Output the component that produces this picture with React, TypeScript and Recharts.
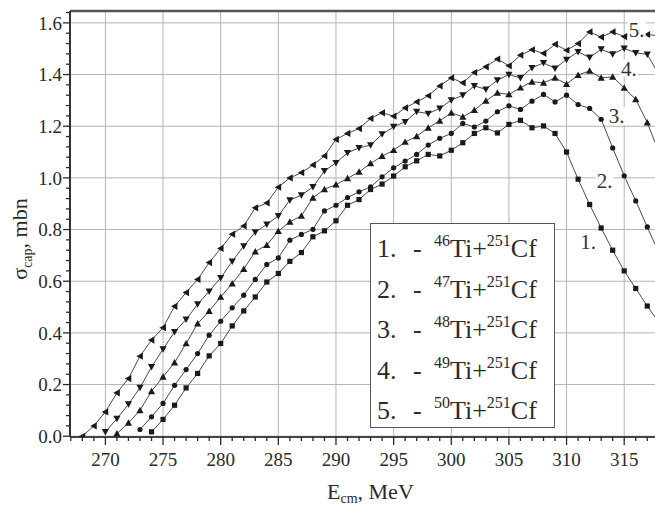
import React from 'react';
import { LineChart, Line, XAxis, YAxis, CartesianGrid, ReferenceLine, ReferenceDot } from 'recharts';

const ENERGY = [
  268, 269, 270, 271, 272, 273, 274, 275, 276, 277, 278, 279, 280, 281, 282, 283, 284,
  285, 286, 287, 288, 289, 290, 291, 292, 293, 294, 295, 296, 297, 298, 299, 300, 301,
  302, 303, 304, 305, 306, 307, 308, 309, 310, 311, 312, 313, 314, 315, 316, 317, 318,
];

// 46Ti + 251Cf
const SIGMA_1 = [
  null, null, null, null, null, null,
  0.017, 0.065, 0.12, 0.187, 0.243, 0.311, 0.359, 0.427, 0.485, 0.539,
  0.597, 0.63, 0.677, 0.711, 0.772, 0.795, 0.834, 0.894, 0.916, 0.955,
  0.976, 1.007, 1.043, 1.066, 1.091, 1.085, 1.107, 1.136, 1.172, 1.194,
  1.174, 1.207, 1.223, 1.194, 1.201, 1.172, 1.1, 0.995, 0.897, 0.806,
  0.72, 0.64, 0.572, 0.504, 0.44,
];
// 47Ti + 251Cf
const SIGMA_2 = [
  null, null, null, null, null,
  0.026, 0.075, 0.127, 0.197, 0.258, 0.32, 0.391, 0.445, 0.497, 0.546,
  0.607, 0.665, 0.69, 0.759, 0.781, 0.801, 0.872, 0.894, 0.924, 0.946,
  0.965, 1.004, 1.039, 1.065, 1.091, 1.127, 1.153, 1.172, 1.211, 1.197,
  1.22, 1.256, 1.279, 1.265, 1.297, 1.323, 1.294, 1.32, 1.284, 1.269,
  1.227, 1.116, 1.008, 0.911, 0.81, 0.71,
];
// 48Ti + 251Cf
const SIGMA_3 = [
  null, null, null,
  0.01, 0.052, 0.1, 0.174, 0.23, 0.285, 0.359, 0.436, 0.484, 0.539,
  0.591, 0.647, 0.715, 0.74, 0.794, 0.83, 0.853, 0.923, 0.956, 0.974,
  0.998, 1.023, 1.056, 1.084, 1.107, 1.139, 1.161, 1.194, 1.221, 1.252,
  1.236, 1.262, 1.298, 1.329, 1.323, 1.349, 1.372, 1.368, 1.387, 1.363,
  1.398, 1.414, 1.387, 1.391, 1.348, 1.304, 1.214, 1.1,
];
// 49Ti + 251Cf
const SIGMA_4 = [
  null, null,
  0.017, 0.068, 0.124, 0.188, 0.268, 0.337, 0.404, 0.452, 0.511, 0.561,
  0.613, 0.677, 0.736, 0.79, 0.82, 0.853, 0.914, 0.933, 0.965, 1.027,
  1.058, 1.097, 1.116, 1.127, 1.169, 1.198, 1.217, 1.256, 1.249, 1.269,
  1.301, 1.32, 1.356, 1.343, 1.378, 1.4, 1.387, 1.426, 1.445, 1.424,
  1.458, 1.488, 1.466, 1.498, 1.479, 1.501, 1.484, 1.478, 1.4,
];
// 50Ti + 251Cf
const SIGMA_5 = [
  0.0, 0.04, 0.094, 0.168, 0.223, 0.31, 0.372, 0.42, 0.503, 0.556,
  0.607, 0.672, 0.727, 0.782, 0.814, 0.884, 0.903, 0.964, 1.0, 1.02,
  1.05, 1.085, 1.149, 1.172, 1.191, 1.23, 1.252, 1.239, 1.271, 1.294,
  1.318, 1.356, 1.387, 1.368, 1.408, 1.43, 1.46, 1.434, 1.475, 1.496,
  1.482, 1.517, 1.494, 1.52, 1.565, 1.545, 1.565, 1.547, 1.57, 1.555,
  1.55,
];

const TI_MASS = ['46', '47', '48', '49', '50'];
const CF_MASS = '251';
const MARKERS = ['square', 'circle', 'triUp', 'triDown', 'triLeft'];

// curve number labels, placed in data units
const CURVE_LABEL_E = [311.86, 313.3, 314.35, 315.41, 316.08];
const CURVE_LABEL_S = [0.752, 0.991, 1.239, 1.424, 1.572];

const X_MAJOR = [270, 275, 280, 285, 290, 295, 300, 305, 310, 315];
const Y_MAJOR = [0, 0.2, 0.4, 0.6, 0.8, 1.0, 1.2, 1.4, 1.6];
const X_DOMAIN = [266.93, 317.67];
const Y_DOMAIN = [-0.003, 1.646];

const X_TICKS: number[] = [];
for (let e = 267; e <= 317; e++) X_TICKS.push(e);
const Y_TICKS: number[] = [];
for (let i = 0; i <= 41; i++) Y_TICKS.push(Number((i * 0.04).toFixed(2)));

const SERIES = [SIGMA_1, SIGMA_2, SIGMA_3, SIGMA_4, SIGMA_5];
const data = ENERGY.map((e, i) => {
  const row: any = { e };
  SERIES.forEach((s, k) => { row['s' + (k + 1)] = s[i]; });
  return row;
});

const FONT = 'Liberation Serif, DejaVu Serif, Noto Serif, Times New Roman, Times, serif';
const INK = '#2a2a2a';

function Marker({ cx, cy, kind }: any) {
  if (cx == null || cy == null || isNaN(cx) || isNaN(cy)) return <g />;
  const f = '#1a1a1a';
  if (kind === 'square') return <rect x={cx - 2.6} y={cy - 2.6} width={5.2} height={5.2} fill={f} />;
  if (kind === 'circle') return <circle cx={cx} cy={cy} r={2.6} fill={f} />;
  const s = 3.6;
  let pts = '';
  if (kind === 'triUp') pts = `${cx},${cy - s} ${cx - s},${cy + s * 0.8} ${cx + s},${cy + s * 0.8}`;
  if (kind === 'triDown') pts = `${cx},${cy + s} ${cx - s},${cy - s * 0.8} ${cx + s},${cy - s * 0.8}`;
  if (kind === 'triLeft') pts = `${cx - s},${cy} ${cx + s * 0.8},${cy - s} ${cx + s * 0.8},${cy + s}`;
  return <polygon points={pts} fill={f} />;
}

function XTick({ x, y, payload }: any) {
  const major = X_MAJOR.includes(payload.value);
  return (
    <g>
      <line x1={x} x2={x} y1={y} y2={y + (major ? 8 : 4)} stroke={INK} strokeWidth={1.3} />
      {major && (
        <text x={x} y={y + 29} textAnchor="middle" fontSize={19} fontFamily={FONT} fill={INK}>
          {payload.value}
        </text>
      )}
    </g>
  );
}

function YTick({ x, y, payload }: any) {
  const major = Y_MAJOR.some((v) => Math.abs(v - payload.value) < 1e-6);
  return (
    <g>
      <line x1={x} x2={x - (major ? 7 : 4)} y1={y} y2={y} stroke={INK} strokeWidth={1.3} />
      {major && (
        <text x={x - 8} y={y} dy="0.35em" textAnchor="end" fontSize={19} fontFamily={FONT} fill={INK}>
          {payload.value.toFixed(1)}
        </text>
      )}
    </g>
  );
}

function CurveLabel({ cx, cy, text }: any) {
  return (
    <g>
      <rect x={cx - 9} y={cy - 9} width={18} height={18} fill="#fff" />
      <text x={cx} y={cy} dy="0.35em" textAnchor="middle" fontSize={21} fontFamily={FONT} fill="#333">
        {text}
      </text>
    </g>
  );
}

export default function App() {
  return (
    <div style={{ position: 'absolute', left: 0, top: 0, width: 655, height: 508, background: '#fff', fontFamily: FONT }}>
      <LineChart width={655} height={508} data={data} margin={{ top: 11, right: 0, bottom: 0, left: 0 }}>
        <CartesianGrid stroke="#b4b4b4" strokeWidth={1} horizontalValues={Y_MAJOR} verticalValues={X_MAJOR} />
        <XAxis
          dataKey="e"
          type="number"
          domain={X_DOMAIN}
          allowDataOverflow
          ticks={X_TICKS}
          interval={0}
          height={71}
          tickSize={0}
          tickMargin={0}
          tickLine={false}
          tick={<XTick />}
          axisLine={{ stroke: '#444', strokeWidth: 2 }}
          label={{
            content: () => (
              <text x={327} y={499} fontSize={22} fontFamily={FONT} fill={INK}>
                E
                <tspan fontSize={14} dy={4}>cm</tspan>
                <tspan dy={-4}>, MeV</tspan>
              </text>
            ),
          }}
        />
        <YAxis
          type="number"
          domain={Y_DOMAIN}
          allowDataOverflow
          ticks={Y_TICKS}
          interval={0}
          width={70}
          tickSize={0}
          tickMargin={0}
          tickLine={false}
          tick={<YTick />}
          axisLine={{ stroke: '#333', strokeWidth: 2 }}
          label={{
            content: () => (
              <text x={27} y={239} transform="rotate(-90 27 239)" textAnchor="middle" fontSize={22} fontFamily={FONT} fill={INK}>
                σ
                <tspan fontSize={14} dy={5}>cap</tspan>
                <tspan dy={-5}>, mbn</tspan>
              </text>
            ),
          }}
        />
        <ReferenceLine y={Y_DOMAIN[1]} stroke="#555" strokeWidth={2.5} ifOverflow="extendDomain" />
        {SERIES.map((_, k) => (
          <Line
            key={k}
            dataKey={'s' + (k + 1)}
            stroke="#4a4a4a"
            strokeWidth={1}
            isAnimationActive={false}
            dot={(p: any) => <Marker key={p.key ?? `${k}-${p.index}`} cx={p.cx} cy={p.cy} kind={MARKERS[k]} />}
            activeDot={false}
          />
        ))}
        {CURVE_LABEL_E.map((e, k) => (
          <ReferenceDot
            key={'lab' + k}
            x={e}
            y={CURVE_LABEL_S[k]}
            r={0}
            shape={(p: any) => <CurveLabel cx={p.cx} cy={p.cy} text={`${k + 1}.`} />}
          />
        ))}
      </LineChart>
      <div
        style={{
          position: 'absolute',
          left: 370,
          top: 223,
          width: 185,
          height: 205,
          boxSizing: 'border-box',
          border: '1px solid #555',
          background: '#fff',
          paddingTop: 5,
          color: INK,
          fontSize: 26,
          whiteSpace: 'nowrap',
        }}
      >
        {TI_MASS.map((m, k) => (
          <div key={m} style={{ height: 40.5, lineHeight: '40.5px' }}>
            <span style={{ display: 'inline-block', width: 36, paddingLeft: 6 }}>{k + 1}.</span>
            <span style={{ display: 'inline-block', width: 21 }}>-</span>
            <span style={{ fontSize: 16, position: 'relative', top: -11 }}>{m}</span>
            <span>Ti+</span>
            <span style={{ fontSize: 16, position: 'relative', top: -11 }}>{CF_MASS}</span>
            <span>Cf</span>
          </div>
        ))}
      </div>
    </div>
  );
}
